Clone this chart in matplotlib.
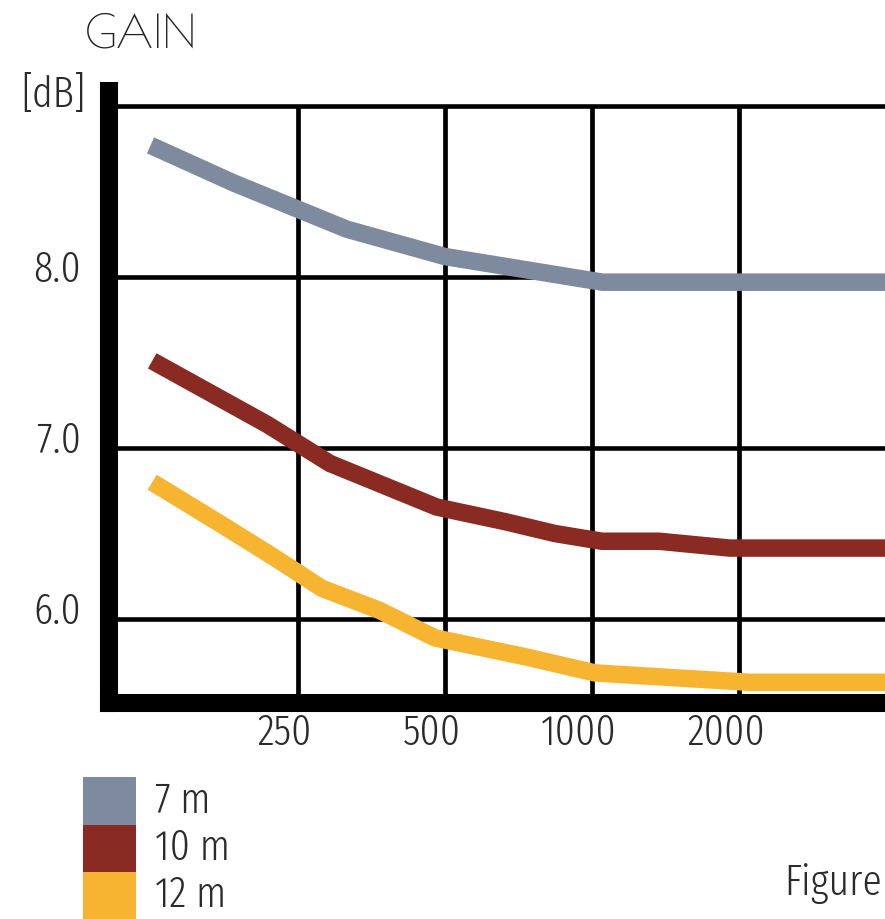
import matplotlib
matplotlib.use("Agg")
import matplotlib.pyplot as plt
from matplotlib.patches import Rectangle
from matplotlib.transforms import offset_copy

# ---- data ----
freq_7m = [125, 185, 315, 500, 1050, 4000]
gain_7m = [8.77, 8.55, 8.28, 8.12, 7.97, 7.97]

freq_10m = [126, 216, 291, 481, 663, 840, 1047, 1371, 1914, 4000]
gain_10m = [7.51, 7.14, 6.91, 6.655, 6.57, 6.50, 6.455, 6.455, 6.415, 6.415]

freq_12m = [126, 173, 224, 280, 368, 477, 729, 1014, 2102, 4000]
gain_12m = [6.80, 6.56, 6.36, 6.18, 6.05, 5.89, 5.78, 5.685, 5.63, 5.63]

x_ticks = [250, 500, 1000, 2000]
x_tick_labels = ["250", "500", "1000", "2000"]
y_ticks = [6.0, 7.0, 8.0]
y_tick_labels = ["6.0", "7.0", "8.0"]
grid_y = [6.0, 7.0, 8.0, 9.0]

series_labels = ["7 m", "10 m", "12 m"]
series_colors = ["#7e8a9e", "#8a2b23", "#f7b431"]

# ---- figure ----
W, H, DPI = 885, 919, 100
fig = plt.figure(figsize=(W / DPI, H / DPI), dpi=DPI)
fig.patch.set_facecolor("white")

ax_left, ax_right, ax_bottom, ax_top = 109, 885, 703, 91
ax = fig.add_axes([ax_left / W, (H - ax_bottom) / H,
                   (ax_right - ax_left) / W, (ax_bottom - ax_top) / H])
ax.set_xscale("log", base=2)
ymin, ymax = 5.509, 9.088
ax.set_xlim(102.8, 3975)
ax.set_ylim(ymin, ymax)

for s in ["top", "right"]:
    ax.spines[s].set_visible(False)
for s in ["left", "bottom"]:
    ax.spines[s].set_linewidth(13)
    ax.spines[s].set_color("black")
    ax.spines[s].set_zorder(5)
ax.set_xticks([])
ax.set_yticks([])
ax.minorticks_off()
ax.tick_params(which="both", length=0, labelbottom=False, labelleft=False)

# grid
for gy in grid_y:
    ax.axhline(gy, color="black", lw=3.3, zorder=1)
ax.vlines(x_ticks, ymin, 9.0, color="black", lw=3.4, zorder=1)

# series
for fr, gn, col in [(freq_7m, gain_7m, series_colors[0]),
                    (freq_10m, gain_10m, series_colors[1]),
                    (freq_12m, gain_12m, series_colors[2])]:
    ax.plot(fr, gn, color=col, lw=12.6, solid_capstyle="butt",
            solid_joinstyle="miter", zorder=3, clip_on=True)

narrow = ["Fira Sans Extra Condensed", "Fira Sans Condensed", "DejaVu Sans"]
fw = 300
tcol = "#2b2b2b"
fs = 31

# x tick labels
xt = ax.get_xaxis_transform()
for f, lab in zip(x_ticks, x_tick_labels):
    tr = offset_copy(xt, fig=fig, x=-13, y=-42, units="dots")
    ax.text(f, 0, lab, transform=tr, ha="center", va="baseline",
            fontsize=fs, family=narrow, fontweight=fw, color=tcol)

# y tick labels
yt = ax.get_yaxis_transform()
for v, lab in zip(y_ticks, y_tick_labels):
    tr = offset_copy(yt, fig=fig, x=-(ax_left - 81), y=-4.5, units="dots")
    ax.text(0, v, lab, transform=tr, ha="right", va="baseline",
            fontsize=fs, family=narrow, fontweight=fw, color=tcol)

def px(x, y):
    return x / W, (H - y) / H

# titles
fig.text(*px(85, 48), "GAIN", fontsize=33, family=["Poiret One", "DejaVu Sans"],
         color="#222222", ha="left", va="baseline")
fig.text(*px(21, 107), "[dB]", fontsize=fs, family=narrow, fontweight=fw,
         color=tcol, ha="left", va="baseline")

# legend
sq_tops = [777, 824.5, 872]
sq_h = 47.5
text_base = [813, 860, 907]
for top, base, lab, col in zip(sq_tops, text_base, series_labels, series_colors):
    x0, y0 = px(83, top + sq_h)
    fig.patches.append(Rectangle((x0, y0), 53 / W, sq_h / H,
                                 transform=fig.transFigure, color=col,
                                 linewidth=0))
    fig.text(*px(155, base), lab, fontsize=fs, family=narrow, fontweight=fw,
             color=tcol, ha="left", va="baseline")

fig.text(*px(882, 895), "Figure", fontsize=fs, family=narrow, fontweight=fw,
         color=tcol, ha="right", va="baseline")

fig.savefig("out.png", dpi=DPI, facecolor="white")
